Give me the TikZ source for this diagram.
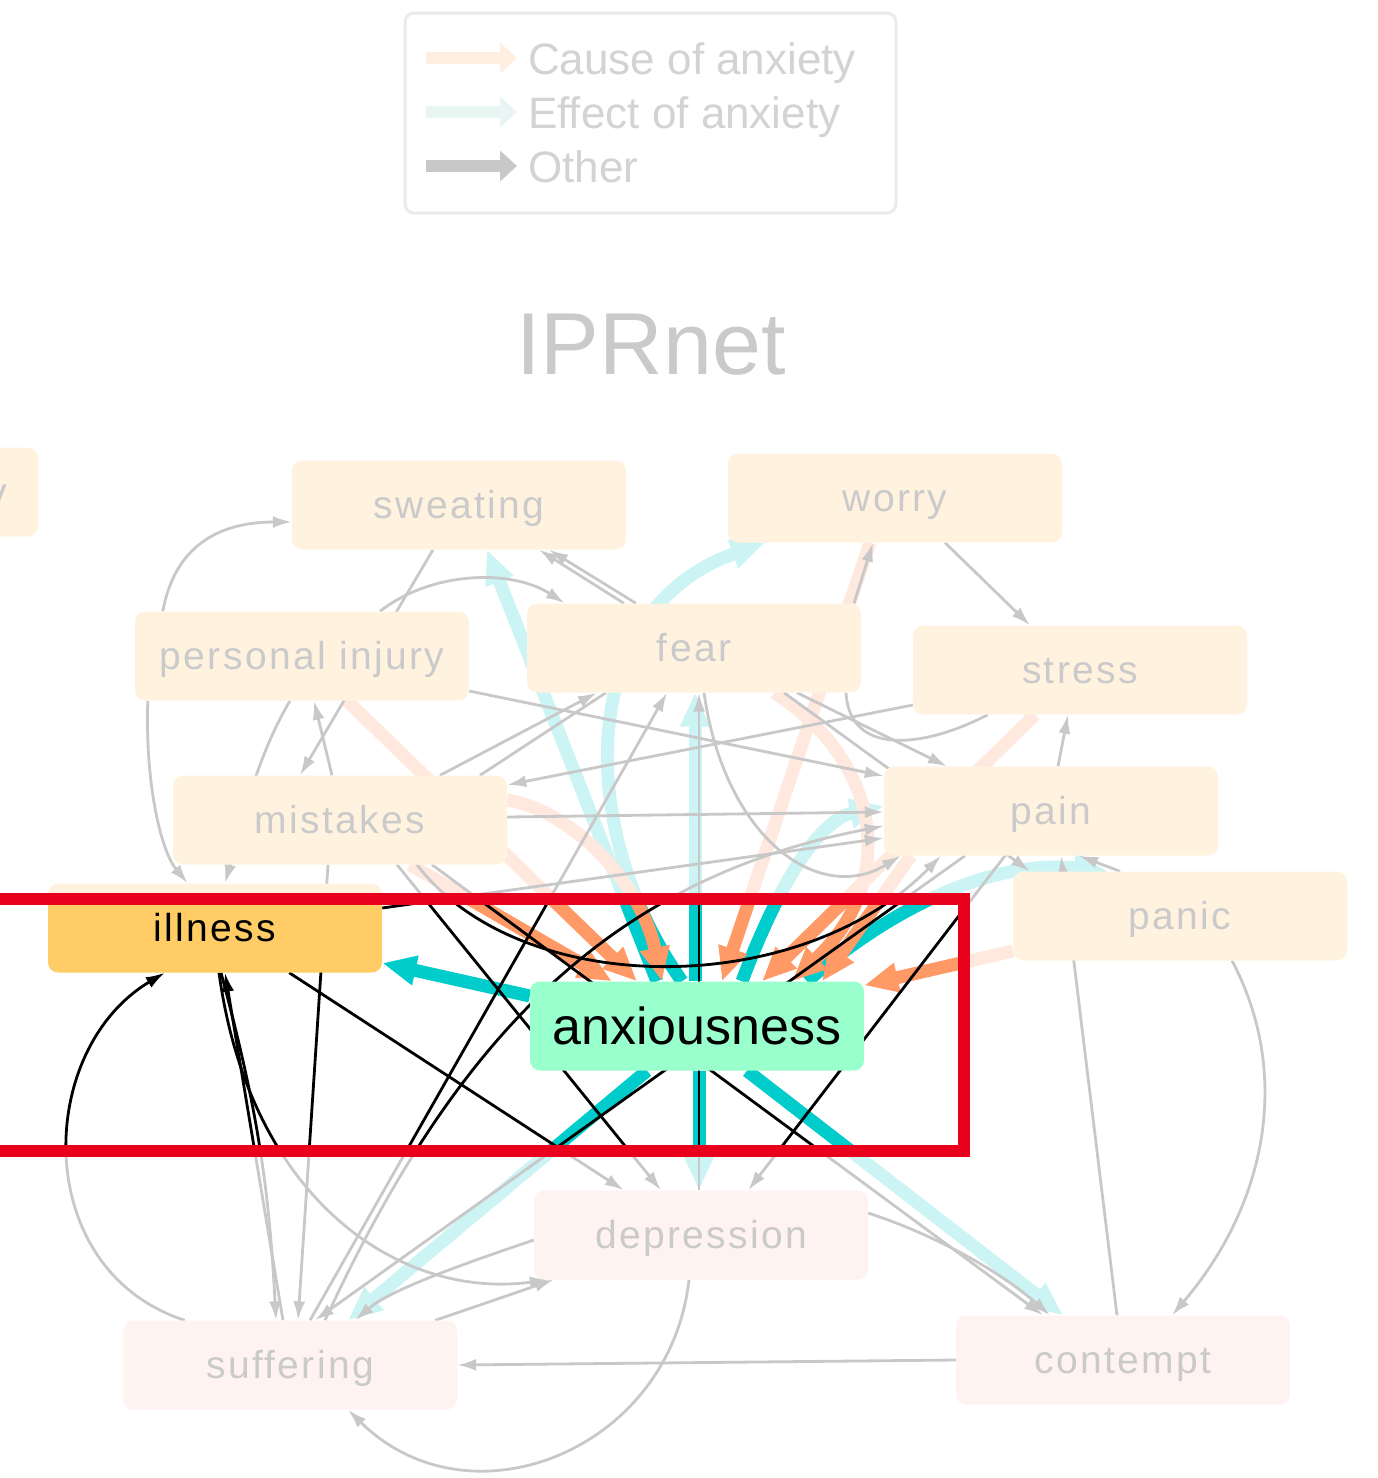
\documentclass[tikz,border=0pt]{standalone}
\usepackage{fontspec}
\setmainfont{Liberation Sans}
\newfontfamily\boxfamily[LetterSpace=6]{Liberation Sans}
\usetikzlibrary{arrows.meta,calc}

\definecolor{causefill}{HTML}{FFF3E0}
\definecolor{effectfill}{HTML}{FFF3F2}
\definecolor{illnessfill}{HTML}{FFCC66}
\definecolor{anxfill}{HTML}{99FFCC}
\definecolor{fadedtext}{HTML}{CACACA}
\definecolor{fadedgray}{HTML}{C8C8C8}
\definecolor{fadedorange}{HTML}{FFE8DE}
\definecolor{fadedteal}{HTML}{CCF4F4}
\definecolor{fullorange}{HTML}{FF9966}
\definecolor{fullteal}{HTML}{00CCCC}
\definecolor{framered}{HTML}{E8001C}
\definecolor{legendline}{HTML}{EBEBEB}
\definecolor{legendorange}{HTML}{FFEFE0}
\definecolor{legendteal}{HTML}{E8F5F2}
\definecolor{legendtext}{HTML}{D3D3D3}

\colorlet{otherline}{fadedgray}
\colorlet{causeline}{fadedorange}
\colorlet{effectline}{fadedteal}

\newcommand\boxfont{\boxfamily\fontsize{39}{44}\selectfont}
\newcommand\anxfont{\fontsize{52}{58}\selectfont}
\newcommand\legendfont{\fontsize{44}{50}\selectfont}
\newcommand\iprtitlefont{\fontsize{88}{96}\selectfont}

\pgfdeclarelayer{edges}
\pgfdeclarelayer{band}
\pgfsetlayers{edges,main,band}

% all relations of the net, drawn once faded and once inside the band
\newcommand\graphedges{%
  % anxiousness -> effects
  \draw[effect_edge] ($(anx.north)+(-40,0)$) -- ($(sweating.south)+(28,0)$);
  \draw[effect_edge] ($(anx.north)+(-15,0)$) .. controls (575,830) and (575,610) .. ($(worry.south)+(-130,0)$);
  \draw[effect_edge] ($(anx.north)+(-2,0)$) -- ($(fear.south)+(1,0)$);
  \draw[effect_edge] ($(anx.south)+(2,0)$) -- ($(depression.north)+(-2,0)$);
  \draw[effect_edge] ($(anx.north)+(45,0)$) .. controls (780,880) and (820,820) .. ($(pain.west)+(0,-5)$);
  \draw[effect_edge] ($(anx.north)+(110,0)$) .. controls (900,900) and (1000,860) .. ($(panic.north)+(-72,0)$);
  \draw[effect_edge] ($(anx.west)+(0,-30)$) -- ($(illness.east)+(0,35)$);
  \draw[effect_edge] ($(anx.south)+(-50,0)$) -- ($(suffering.north)+(58,0)$);
  \draw[effect_edge] ($(anx.south)+(50,0)$) -- ($(contempt.north)+(-60,0)$);
  % causes -> anxiousness
  \draw[cause_edge] ($(injury.south)+(45,0)$) -- ($(anx.north)+(-60,0)$);
  \draw[cause_edge] ($(mistakes.east)+(0,-20)$) .. controls (570,810) and (640,880) .. ($(anx.north)+(-35,0)$);
  \draw[cause_edge] ($(mistakes.south)+(70,0)$) -- ($(anx.north)+(-85,0)$);
  \draw[cause_edge] ($(fear.south)+(80,0)$) .. controls (880,760) and (900,880) .. ($(anx.north)+(95,0)$);
  \draw[cause_edge] ($(worry.south)+(-25,0)$) -- ($(anx.north)+(25,0)$);
  \draw[cause_edge] ($(stress.south)+(-45,0)$) -- ($(anx.north)+(65,0)$);
  \draw[cause_edge] ($(pain.south)+(-140,0)$) -- ($(anx.north)+(125,0)$);
  \draw[cause_edge] ($(panic.west)+(0,35)$) -- ($(anx.north east)+(0,4)$);
  % other relations
  \draw[other_edge] ($(injury.north west)+(28,0)$) .. controls (175,545) and (220,522) .. ($(sweating.west)+(0,17)$);
  \draw[other_edge] ($(injury.north)+(78,0)$) .. controls (430,572) and (510,568) .. ($(fear.north west)+(38,0)$);
  \draw[other_edge] ($(sweating.south)+(-26,0)$) -- ($(mistakes.north)+(-40,0)$);
  \draw[other_edge] ($(fear.north)+(-70,0)$) -- ($(sweating.south)+(80,0)$);
  \draw[other_edge] ($(fear.north)+(-58,0)$) -- ($(sweating.south)+(90,0)$);
  \draw[other_edge] ($(worry.south)+(50,0)$) -- ($(stress.north)+(-50,0)$);
  \draw[other_edge] ($(fear.north)+(160,0)$) -- ($(worry.south)+(-22,0)$);
  \draw[other_edge] ($(injury.east)+(0,35)$) -- ($(pain.west)+(0,-35)$);
  \draw[other_edge] ($(stress.west)+(0,35)$) -- ($(mistakes.east)+(0,-35)$);
  \draw[other_edge] ($(fear.south)+(103,0)$) -- ($(pain.north)+(-104,0)$);
  \draw[other_edge] ($(fear.south)+(90,0)$) -- ($(panic.north)+(-150,0)$);
  \draw[other_edge, -] ($(stress.south west)+(75,0)$) .. controls (930,745) and (850,760) .. ($(fear.south)+(152,0)$);
  \draw[other_edge] ($(pain.north)+(7,0)$) -- ($(stress.south)+(-12,0)$);
  \draw[other_edge] ($(mistakes.north)+(100,0)$) -- ($(fear.south)+(-97,0)$);
  \draw[other_edge, -] ($(mistakes.north)+(140,0)$) -- ($(fear.south)+(-88,0)$);
  \draw[other_edge] ($(mistakes.east)+(0,-3)$) -- ($(pain.west)+(0,1)$);
  \draw[other_edge] ($(illness.east)+(0,-20)$) -- ($(pain.west)+(0,27)$);
  \draw[other_edge] ($(fear.south)+(10,0)$) .. controls (725,840) and (820,905) .. ($(pain.south)+(-150,0)$);
  \draw[other_edge] ($(depression.north)+(-2,0)$) -- ($(fear.south)+(5,0)$);
  \draw[other_edge] ($(suffering.north)+(-7,0)$) -- ($(illness.south)+(10,0)$);
  \draw[other_edge] ($(illness.south)+(6,0)$) to[bend left=6] ($(suffering.north)+(-14,0)$);
  \draw[other_edge] ($(illness.south)+(4,0)$) .. controls (250,1200) and (400,1300) .. ($(depression.south west)+(15,0)$);
  \draw[other_edge] ($(mistakes.south)+(-12,0)$) -- ($(suffering.north)+(8,0)$);
  \draw[other_edge] ($(suffering.north west)+(62,0)$) .. controls (30,1270) and (35,1050) .. ($(illness.south west)+(117,0)$);
  \draw[other_edge] ($(illness.south east)+(-93,0)$) -- ($(depression.north west)+(90,0)$);
  \draw[other_edge] ($(mistakes.south)+(57,0)$) -- ($(depression.north)+(-40,0)$);
  \draw[other_edge] ($(mistakes.south)+(92,0)$) -- ($(contempt.north)+(-80,0)$);
  \draw[other_edge] ($(pain.south)+(-86,0)$) -- ($(suffering.north)+(25,0)$);
  \draw[other_edge] ($(pain.south)+(-46,0)$) -- ($(depression.north east)+(-120,0)$);
  \draw[other_edge] ($(suffering.north)+(20,0)$) -- ($(fear.south)+(-27,0)$);
  \draw[other_edge] ($(suffering.north)+(35,0)$) .. controls (450,1050) and (600,880) .. ($(pain.west)+(0,15)$);
  \draw[other_edge] ($(depression.west)+(0,5)$) .. controls (460,1265) and (390,1290) .. ($(suffering.north)+(65,0)$);
  \draw[other_edge] ($(suffering.north east)+(-22,0)$) -- ($(depression.south west)+(20,0)$);
  \draw[other_edge] (contempt.west) -- (suffering.east);
  \draw[other_edge] ($(depression.south)+(-12,0)$) .. controls (670,1450) and (470,1530) .. ($(suffering.south)+(58,0)$);
  \draw[other_edge] ($(depression.east)+(0,-22)$) .. controls (950,1240) and (1010,1280) .. ($(contempt.north)+(-73,0)$);
  \draw[other_edge] ($(panic.south)+(52,0)$) .. controls (1290,1070) and (1270,1200) .. ($(contempt.north)+(49,0)$);
  \draw[other_edge] ($(contempt.north)+(-6,0)$) -- ($(pain.south)+(10,0)$);
  \draw[other_edge] ($(panic.north)+(-60,0)$) -- ($(pain.south)+(28,0)$);
  \draw[other_edge] ($(injury.south)+(-12,0)$) .. controls (255,760) and (240,830) .. ($(illness.north)+(10,0)$);
  \draw[other_edge] ($(mistakes.south)+(77,0)$) .. controls (520,1000) and (800,1000) .. ($(pain.south)+(-110,0)$);
  \draw[other_edge] ($(mistakes.north)+(-8,0)$) -- ($(injury.south)+(12,0)$);
  \draw[other_edge] ($(injury.south west)+(13,0)$) .. controls (145,780) and (160,850) .. ($(illness.north west)+(140,0)$);
}

\begin{document}
\begin{tikzpicture}[x=1pt, y=-1pt,
    box_node/.style={rectangle, rounded corners=10pt, minimum width=334pt, minimum height=89pt,
      inner sep=0pt, text height=27pt, text depth=0pt, font=\boxfont},
    cause_node/.style={box_node, fill=causefill, text=fadedtext},
    effect_node/.style={box_node, fill=effectfill, text=fadedtext},
    anx_node/.style={box_node, fill=anxfill, text=black, font=\anxfont, text height=37pt},
    other_edge/.style={draw=otherline, line width=2.8pt, -{Latex[length=19pt,width=12pt]}},
    cause_edge/.style={draw=causeline, line width=13pt, -{Triangle[length=34pt,width=28pt]}},
    effect_edge/.style={draw=effectline, line width=13pt, -{Triangle[length=34pt,width=28pt]}},
    legend_arrow/.style={line width=12pt, -{Triangle[length=17pt,width=30pt]}},
    legend_text/.style={anchor=base west, text=legendtext, font=\legendfont, inner sep=0pt},
    red_frame/.style={draw=framered, line width=12pt}]

  \useasboundingbox (0,0) rectangle (1378,1478);
  \clip (0,0) rectangle (1378,1478);

  % legend
  \draw[draw=legendline, line width=3pt, rounded corners=9pt, fill=white] (405,13) rectangle (896,213);
  \coordinate (lc0) at (426,58);  \coordinate (lc1) at (517,58);
  \coordinate (le0) at (426,112); \coordinate (le1) at (517,112);
  \coordinate (lo0) at (426,166); \coordinate (lo1) at (517,166);
  \draw[legend_arrow, draw=legendorange] (lc0) -- (lc1);
  \draw[legend_arrow, draw=legendteal] (le0) -- (le1);
  \draw[legend_arrow, draw=fadedgray] (lo0) -- (lo1);
  \node[legend_text] (lcause) at (528,74) {Cause of anxiety};
  \node[legend_text] (leffect) at (528,128) {Effect of anxiety};
  \node[legend_text] (lother) at (528,182) {Other};

  \node[text=fadedtext, font=\iprtitlefont] (title) at (651,345) {IPRnet};

  % nodes
  \node[cause_node] (respons) at (-129,492) {\hspace*{16pt}responsibility};
  \node[cause_node] (sweating) at (459,505) {sweating};
  \node[cause_node] (worry) at (895,498) {worry};
  \node[cause_node] (injury) at (302,656) {personal injury};
  \node[cause_node] (fear) at (694,648) {fear};
  \node[cause_node] (stress) at (1080,670) {stress};
  \node[cause_node] (mistakes) at (340,820) {mistakes};
  \node[cause_node] (pain) at (1051,811) {pain};
  \node[cause_node] (illness) at (215,928) {};
  \node[cause_node] (panic) at (1180,916) {panic};
  \node[anx_node] (anx) at (697,1026) {};
  \node[effect_node] (depression) at (701,1235) {depression};
  \node[effect_node] (suffering) at (290,1365) {suffering};
  \node[effect_node] (contempt) at (1123,1360) {contempt};

  \begin{pgfonlayer}{edges}
    \graphedges
  \end{pgfonlayer}

  % highlighted band
  \begin{pgfonlayer}{band}
    \begin{scope}
      \clip (-30,899) rectangle (964,1151);
      \fill[white] (-30,899) rectangle (964,1151);
      \colorlet{otherline}{black}
      \colorlet{causeline}{fullorange}
      \colorlet{effectline}{fullteal}
      \graphedges
      \node[box_node, fill=illnessfill, text=black] (illnessband) at (illness) {illness};
      \node[anx_node] (anxband) at (anx) {anxiousness};
    \end{scope}
    \draw[red_frame] (-30,899) rectangle (964,1151);
  \end{pgfonlayer}
\end{tikzpicture}
\end{document}
